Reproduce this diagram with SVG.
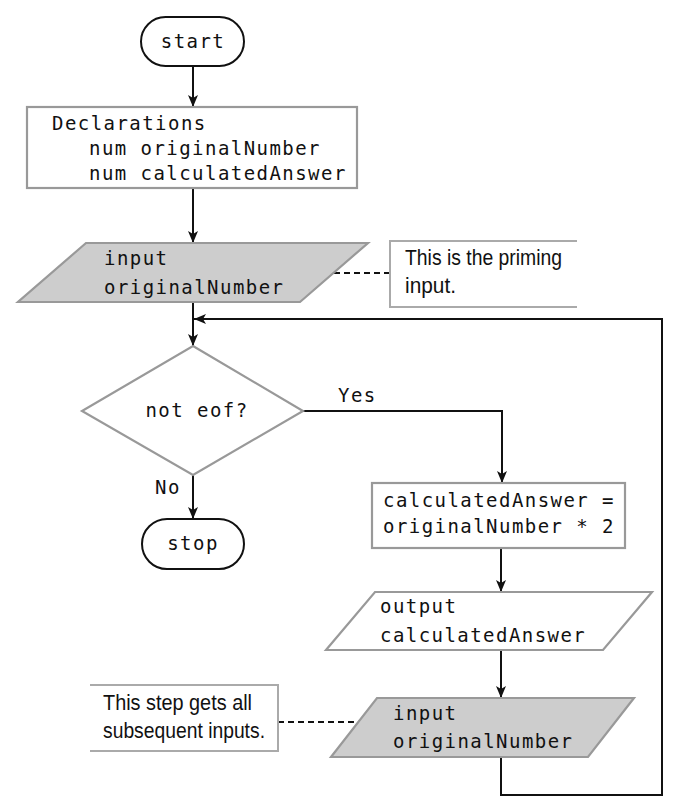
<svg xmlns="http://www.w3.org/2000/svg" width="677" height="809" viewBox="0 0 677 809">
<style>
.mono{font-family:"DejaVu Sans Mono","Liberation Mono",monospace;font-size:19px;letter-spacing:1.45px;fill:#111}
.note{font-family:"Liberation Sans Narrow","Liberation Sans",Arial,sans-serif;font-size:22px;fill:#111}
.term{fill:#fff;stroke:#111;stroke-width:2}
.proc{fill:#fff;stroke:#999;stroke-width:2.2}
.io{fill:#fff;stroke:#999;stroke-width:2.2}
.io.grey{fill:#cdcdcd}
.nb{fill:none;stroke:#aaa;stroke-width:2}
.line{fill:none;stroke:#111;stroke-width:2}
.dash{fill:none;stroke:#111;stroke-width:2;stroke-dasharray:6 4}
</style>
<defs>
<marker id="arr" viewBox="0 0 12 10" refX="12" refY="5" markerWidth="12" markerHeight="10" markerUnits="userSpaceOnUse" orient="auto">
<path d="M0,0 L12,5 L0,10 L3,5 Z" fill="#111"/>
</marker>
</defs>
<rect width="677" height="809" fill="#fff"/>
<g id="connectors">
<path class="line" d="M193,66 V107" marker-end="url(#arr)"/>
<path class="line" d="M193,188 V243" marker-end="url(#arr)"/>
<path class="line" d="M193,302 V346" marker-end="url(#arr)"/>
<path class="line" d="M303,411 H502 V483" marker-end="url(#arr)"/>
<path class="line" d="M193,475 V519" marker-end="url(#arr)"/>
<path class="line" d="M501,548 V592" marker-end="url(#arr)"/>
<path class="line" d="M501,650 V698" marker-end="url(#arr)"/>
<path class="line" d="M501,757 V795 H662 V319 H194" marker-end="url(#arr)"/>
<path class="dash" d="M334,273 H390"/>
<path class="dash" d="M278,722 H358"/>
<text class="mono" x="338" y="402">Yes</text>
<text class="mono" x="155" y="494">No</text>
</g>
<g id="start">
<rect class="term" x="141" y="17" width="103" height="49" rx="24.5"/>
<text class="mono" x="193" y="48" text-anchor="middle">start</text>
</g>
<g id="declarations">
<rect class="proc" x="27" y="107" width="330" height="81"/>
<text class="mono" x="52" y="130">Declarations</text>
<text class="mono" x="89" y="155">num originalNumber</text>
<text class="mono" x="89" y="180">num calculatedAnswer</text>
</g>
<g id="input1">
<polygon class="io grey" points="86,243 368,243 300,302 18,302"/>
<text class="mono" x="104" y="265">input</text>
<text class="mono" x="104" y="294">originalNumber</text>
</g>
<g id="note1">
<path class="nb" d="M577,241 H390 V307 H577"/>
<text class="note" x="405" y="265" textLength="157" lengthAdjust="spacingAndGlyphs">This is the priming</text>
<text class="note" x="405" y="293" textLength="51" lengthAdjust="spacingAndGlyphs">input.</text>
</g>
<g id="decision">
<polygon class="io" points="193,346 303,411 193,475 82,411"/>
<text class="mono" x="197" y="417" text-anchor="middle">not eof?</text>
</g>
<g id="stop">
<rect class="term" x="142" y="519" width="102" height="50" rx="25"/>
<text class="mono" x="193" y="550" text-anchor="middle">stop</text>
</g>
<g id="calc">
<rect class="proc" x="372" y="483" width="253" height="65"/>
<text class="mono" x="383" y="507">calculatedAnswer =</text>
<text class="mono" x="383" y="533">originalNumber * 2</text>
</g>
<g id="output">
<polygon class="io" points="375,592 652,592 603,650 326,650"/>
<text class="mono" x="380" y="613">output</text>
<text class="mono" x="380" y="642">calculatedAnswer</text>
</g>
<g id="input2">
<polygon class="io grey" points="377,698 634,698 588,757 331,757"/>
<text class="mono" x="393" y="720">input</text>
<text class="mono" x="393" y="748">originalNumber</text>
</g>
<g id="note2">
<path class="nb" d="M90,685 H278 V751 H90"/>
<text class="note" x="103" y="710" textLength="149" lengthAdjust="spacingAndGlyphs">This step gets all</text>
<text class="note" x="103" y="738" textLength="162" lengthAdjust="spacingAndGlyphs">subsequent inputs.</text>
</g>
</svg>
